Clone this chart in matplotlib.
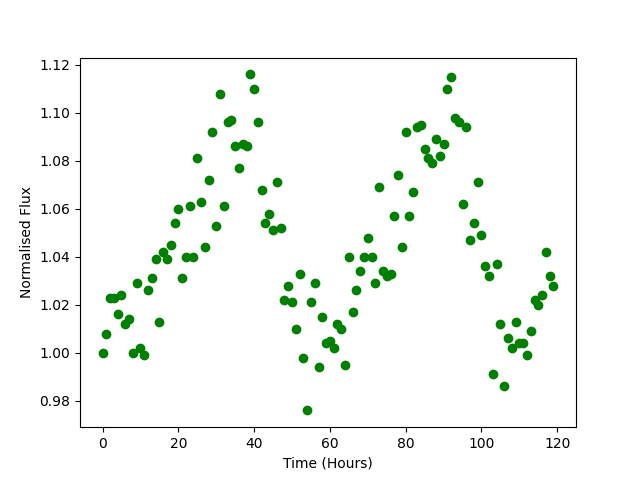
import numpy as np
import matplotlib
matplotlib.use("Agg")
import matplotlib.pyplot as plt

# hourly samples
time_hours = np.arange(120)

flux = [
    1.000, 1.008, 1.023, 1.023, 1.016, 1.024, 1.012, 1.014, 1.000, 1.029,
    1.002, 0.999, 1.026, 1.031, 1.039, 1.013, 1.042, 1.039, 1.045, 1.054,
    1.060, 1.031, 1.040, 1.061, 1.040, 1.081, 1.063, 1.044, 1.072, 1.092,
    1.053, 1.108, 1.061, 1.096, 1.097, 1.086, 1.077, 1.087, 1.086, 1.116,
    1.110, 1.096, 1.068, 1.054, 1.058, 1.051, 1.071, 1.052, 1.022, 1.028,
    1.021, 1.010, 1.033, 0.998, 0.976, 1.021, 1.029, 0.994, 1.015, 1.004,
    1.005, 1.002, 1.012, 1.010, 0.995, 1.040, 1.017, 1.026, 1.034, 1.040,
    1.048, 1.040, 1.029, 1.069, 1.034, 1.032, 1.033, 1.057, 1.074, 1.044,
    1.092, 1.057, 1.067, 1.094, 1.095, 1.085, 1.081, 1.079, 1.089, 1.082,
    1.087, 1.110, 1.115, 1.098, 1.096, 1.062, 1.094, 1.047, 1.054, 1.071,
    1.049, 1.036, 1.032, 0.991, 1.037, 1.012, 0.986, 1.006, 1.002, 1.013,
    1.004, 1.004, 0.999, 1.009, 1.022, 1.020, 1.024, 1.042, 1.032, 1.028,
]

plt.figure(figsize=(6.4, 4.8), dpi=100)
plt.plot(time_hours, flux, 'go')
plt.xlabel("Time (Hours)")
plt.ylabel("Normalised Flux")
plt.savefig("out.png")
